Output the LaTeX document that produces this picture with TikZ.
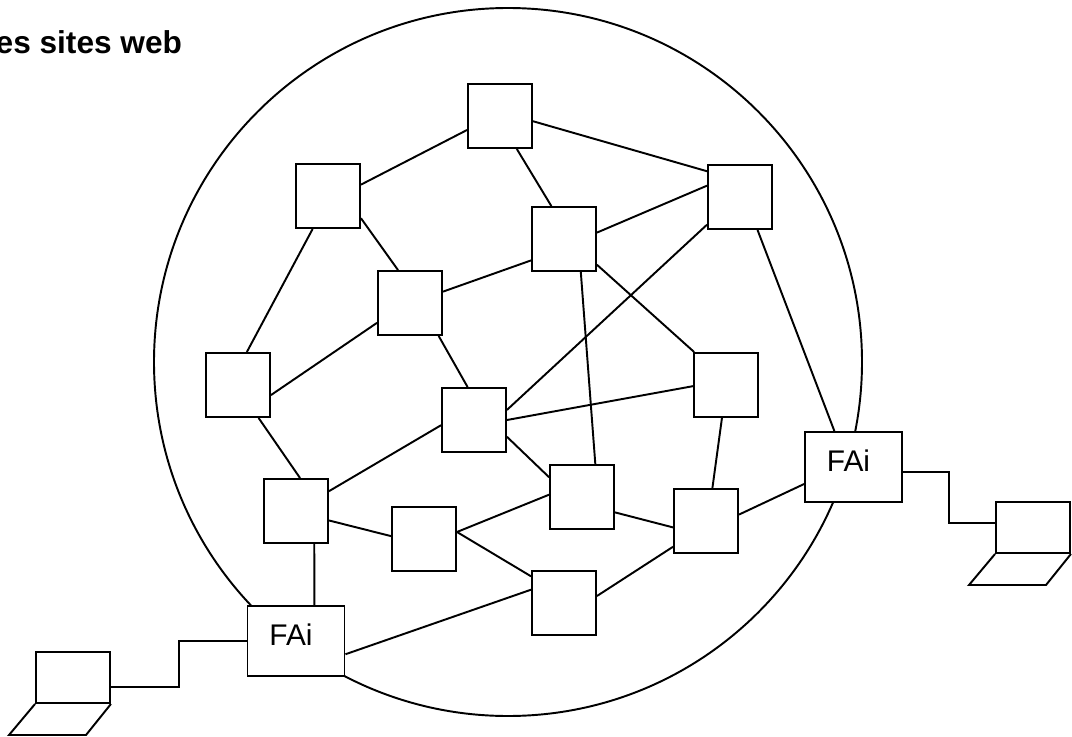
\documentclass[tikz,border=0pt]{standalone}
\usepackage{fontspec}
\setmainfont{Liberation Sans}
\tikzset{site/.style={draw, fill=white, minimum size=1.28cm, inner sep=0pt},
    fai/.style={draw, fill=white, minimum width=1.94cm, minimum height=1.4cm, inner sep=0pt, text height=.32cm, text depth=.16cm, font=\fontsize{17}{20}\selectfont},
    screen/.style={draw, fill=white, minimum width=1.48cm, minimum height=1.02cm, inner sep=0pt}}

\begin{document}
\begin{tikzpicture}[x=.02cm, y=-.02cm, line width=1.1pt]
    \useasboundingbox (0, 0) rectangle (1072, 737);
    \draw (508, 362) circle (354);
    \node[anchor=base east, inner sep=0pt, font=\fontsize{18}{21}\selectfont\bfseries] (title) at (183, 53) {es sites web};
    % sites
    \node[site] (a) at (500, 116) {};
    \node[site] (b) at (328, 196) {};
    \node[site] (c) at (564, 239) {};
    \node[site] (d) at (740, 197) {};
    \node[site] (e) at (410, 303) {};
    \node[site] (f) at (238, 385) {};
    \node[site] (g) at (474, 420) {};
    \node[site] (h) at (726, 385) {};
    \node[site] (i) at (296, 511) {};
    \node[site] (j) at (424, 539) {};
    \node[site] (k) at (582, 497) {};
    \node[site] (l) at (706, 521) {};
    \node[site] (m) at (564, 603) {};
    \node[fai] (fair) at (853.5, 467) {FAi\hspace*{.2cm}};
    \node[fai] (fail) at (296, 641) {FAi\hspace*{.2cm}};
    % liens
    \foreach \p/\pa/\q/\qa in {a/203/b/19, a/351/d/142, a/-63/c/111, b/-34/e/110, b/245/f/75,
        d/161/c/11, d/220/g/17, d/-62/fair/118, c/213/e/19, c/-38/h/134, c/-63/k/68,
        e/211/f/-17, e/-49/g/101, f/-58/i/83, g/0/h/182, g/189/i/31, g/-27/k/149,
        h/263/l/79, i/-16/j/175, i/-61/fail/63, j/12/k/176, j/12/m/141, k/-25/l/191,
        l/218/m/12, l/11/fair/199, m/158/fail/-15}
        \draw (\p.\pa)--(\q.\qa);
    % portables
    \node[screen] (pcr) at (1033, 527.5) {};
    \node[screen] (pcl) at (73, 677.5) {};
    \draw (pcr.south west)--++(-26, 31)--++(77, 0)--(pcr.south east);
    \draw (pcl.south west)--++(-26, 31)--++(77, 0)--(pcl.south east);
    \draw (fair.east |- 0, 472)-|(949, 523)--(pcr.west |- 0, 523);
    \draw (fail.west)-|(179, 687)--(pcl.east |- 0, 687);
\end{tikzpicture}
\end{document}
